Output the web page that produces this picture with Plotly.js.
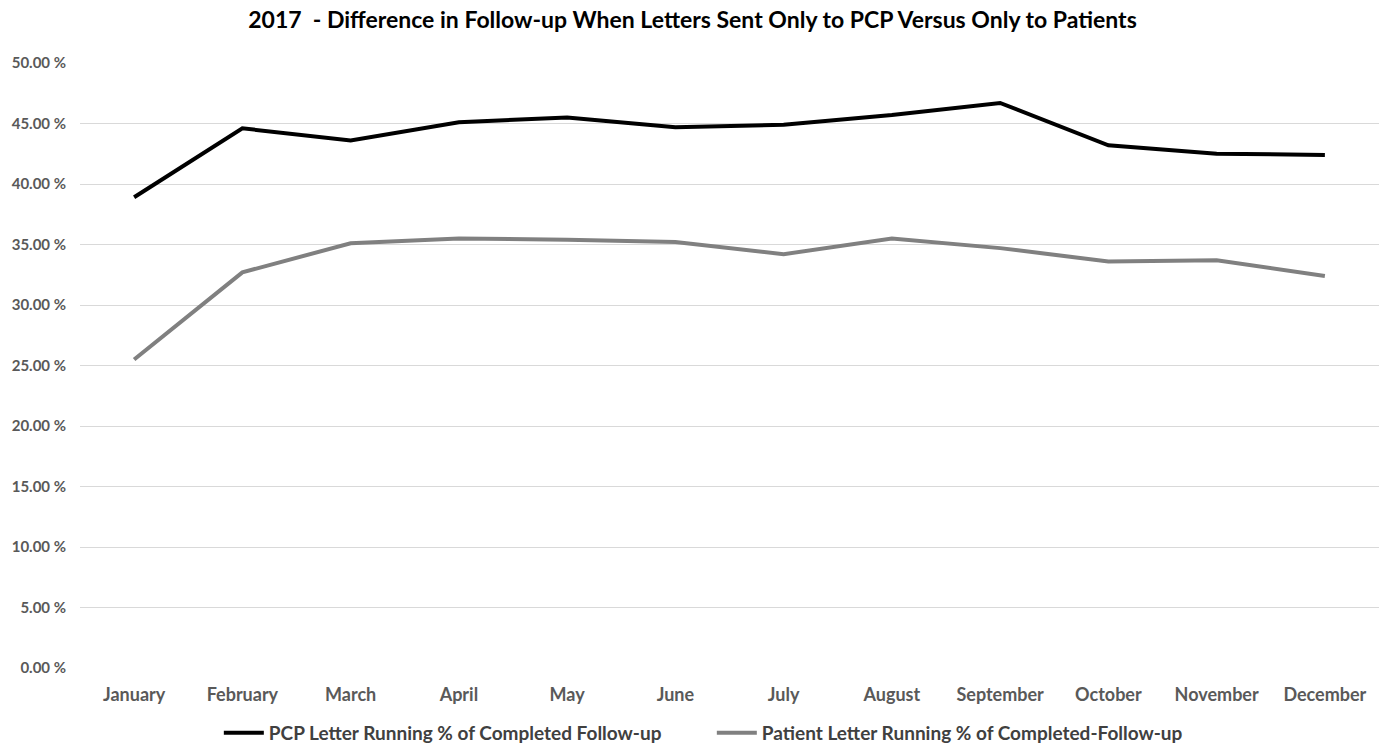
<!DOCTYPE html>
<html>
<head>
<meta charset="utf-8">
<script src="https://cdn.plot.ly/plotly-3.0.1.min.js"></script>
<style>html,body{margin:0;padding:0;background:#fff;}#chart{width:1385px;height:744px;}</style>
</head>
<body>
<div id="chart"></div>
<script>
const months = ["January","February","March","April","May","June","July","August","September","October","November","December"];
const pcpValues = [38.9, 44.6, 43.6, 45.1, 45.5, 44.7, 44.9, 45.7, 46.7, 43.2, 42.5, 42.4];
const patientValues = [25.5, 32.7, 35.1, 35.5, 35.4, 35.2, 34.2, 35.5, 34.7, 33.6, 33.7, 32.4];
const seriesNames = ["PCP Letter Running % of Completed Follow-up", "Patient Letter Running % of Completed-Follow-up"];

const fontFam = "Lato, 'Open Sans', sans-serif";
const data = [
  {x: months, y: pcpValues, name: seriesNames[0], type: "scatter", mode: "lines",
   line: {color: "#000000", width: 4}},
  {x: months, y: patientValues, name: seriesNames[1], type: "scatter", mode: "lines",
   line: {color: "#808080", width: 4}}
];
const layout = {
  width: 1385, height: 744,
  margin: {l: 80, r: 6, t: 63, b: 76, autoexpand: false},
  paper_bgcolor: "#fff", plot_bgcolor: "#fff",
  title: {text: "<b>2017  - Difference in Follow-up When Letters Sent Only to PCP Versus Only to Patients</b>",
          font: {family: fontFam, size: 23, color: "#000"}, x: 0.5, xanchor: "center", y: 0.973, yanchor: "middle"},
  xaxis: {type: "category", range: [-0.5, 11.5], showgrid: false, zeroline: false, showline: false,
          ticks: "outside", ticklen: 10, tickcolor: "rgba(0,0,0,0)",
          tickfont: {family: fontFam, size: 18, color: "#595959", weight: "bold"}},
  yaxis: {range: [0, 50], dtick: 5, tickformat: ".2f", ticksuffix: " %", showgrid: true, gridcolor: "#d9d9d9", gridwidth: 1,
          zeroline: false, showline: false, ticks: "outside", ticklen: 10, tickcolor: "rgba(0,0,0,0)",
          tickfont: {family: fontFam, size: 15, color: "#595959", weight: "bold"}},
  showlegend: true,
  legend: {orientation: "h", xref: "container", yref: "container", x: 0.158, xanchor: "left", y: 0.015, yanchor: "middle",
           font: {family: fontFam, size: 19, color: "#404040", weight: "bold"}, itemwidth: 40,
           entrywidth: 438, entrywidthmode: "pixels", traceorder: "normal"}
};
Plotly.newPlot("chart", data, layout, {displayModeBar: false, staticPlot: true});
</script>
</body>
</html>
